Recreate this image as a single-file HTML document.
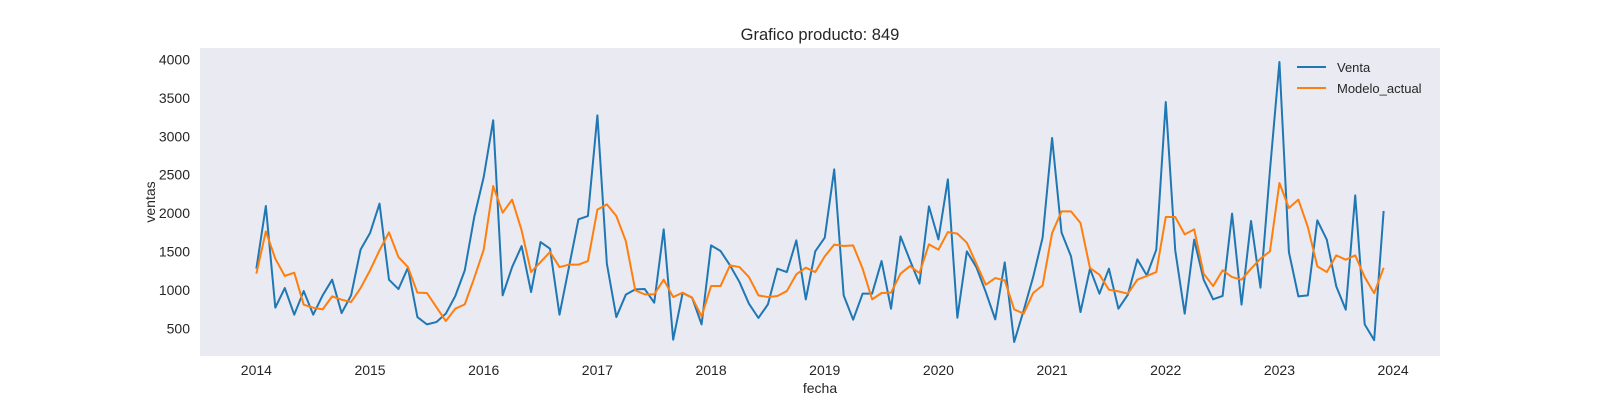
<!DOCTYPE html>
<html><head><meta charset="utf-8"><style>
body{margin:0;background:#fff;}
svg text{font-family:"Liberation Sans",Arial,sans-serif;fill:#262626;}
</style></head><body>
<svg id="chart" width="1600" height="400" xmlns="http://www.w3.org/2000/svg">
<rect x="200" y="48" width="1240" height="308" fill="#eaeaf2"/>
<text x="820" y="40" text-anchor="middle" font-size="16.5">Grafico producto: 849</text>
<text x="820" y="393" text-anchor="middle" font-size="14">fecha</text>
<text x="0" y="0" transform="translate(155,202) rotate(-90)" text-anchor="middle" font-size="14">ventas</text>
<g id="xticks"></g><g id="yticks"></g><g id="series"></g>
<g>
<line x1="1297" y1="67" x2="1326" y2="67" stroke="#1f77b4" stroke-width="2"/>
<text x="1337" y="72" font-size="13">Venta</text>
<line x1="1297" y1="88" x2="1326" y2="88" stroke="#ff7f0e" stroke-width="2"/>
<text x="1337" y="93" font-size="13">Modelo_actual</text>
</g>
</svg>
<script>
const startYear = 2014;
const venta = [1279,2093,772,1027,681,988,681,932,1136,702,932,1526,
1742,2124,1136,1014,1292,650,555,585,694,924,1257,1950,
2470,3207,932,1300,1573,975,1625,1539,681,1300,1920,1963,
3272,1344,650,941,1010,1014,837,1790,356,963,902,555,
1582,1509,1322,1105,824,638,815,1279,1235,1647,880,1504,
1682,2570,932,616,954,954,1378,759,1699,1387,1084,2089,
1660,2440,642,1504,1300,975,620,1361,326,737,1170,1682,
2977,1747,1439,715,1279,954,1279,759,941,1400,1192,1526,
3445,1517,694,1656,1136,880,924,1994,811,1898,1032,2557,
3965,1495,919,932,1907,1656,1049,746,2232,555,350,2030];
const modelo = [1214,1764,1409,1184,1227,811,772,750,919,876,845,1027,
1257,1517,1751,1430,1300,967,963,780,598,759,815,1157,
1526,2353,2007,2176,1777,1235,1365,1496,1300,1331,1331,1378,
2046,2115,1963,1638,997,945,945,1136,910,967,902,659,
1053,1053,1322,1300,1170,932,910,924,988,1205,1292,1235,
1439,1591,1573,1582,1279,880,963,967,1214,1313,1222,1595,
1526,1755,1734,1617,1344,1071,1157,1127,750,694,963,1062,
1742,2024,2024,1872,1287,1201,1006,984,954,1136,1184,1235,
1950,1950,1725,1790,1214,1053,1257,1170,1136,1279,1409,1504,
2392,2067,2176,1820,1309,1235,1452,1396,1452,1170,960,1290];
const xTickLabels = ["2014","2015","2016","2017","2018","2019","2020","2021","2022","2023","2024"];
const yTickValues = [500,1000,1500,2000,2500,3000,3500,4000];

const NS="http://www.w3.org/2000/svg";
const L=200,R=1440,T=48,B=356;
const n=venta.length;
const spanYears=(n-1)/12;
const x0=startYear-spanYears*0.05, x1=startYear+spanYears*1.05;
function xScale(yr){return L+(yr-x0)/(x1-x0)*(R-L);}
const all=venta.concat(modelo);
const vmin=Math.min(...all), vmax=Math.max(...all), pad=(vmax-vmin)*0.05;
const y0=vmin-pad, y1=vmax+pad;
function yScale(v){return B-(v-y0)/(y1-y0)*(B-T);}

const xt=document.getElementById('xticks');
xTickLabels.forEach(function(lab){
  const t=document.createElementNS(NS,'text');
  t.setAttribute('x',xScale(+lab));t.setAttribute('y',B+19);
  t.setAttribute('text-anchor','middle');t.setAttribute('font-size','14');
  t.textContent=lab;
  
  
  xt.appendChild(t);
});
const yt=document.getElementById('yticks');
yTickValues.forEach(function(v){
  const t=document.createElementNS(NS,'text');
  t.setAttribute('x',L-10);t.setAttribute('y',yScale(v)+5);
  t.setAttribute('text-anchor','end');t.setAttribute('font-size','14');
  t.textContent=v;
  
  
  yt.appendChild(t);
});
const sg=document.getElementById('series');
function drawLine(arr,color,name){
  const pts=arr.map(function(v,i){return xScale(startYear+i/12).toFixed(2)+','+yScale(v).toFixed(2);}).join(' ');
  const p=document.createElementNS(NS,'polyline');
  p.setAttribute('points',pts);p.setAttribute('fill','none');
  p.setAttribute('stroke',color);p.setAttribute('stroke-width','2');
  p.setAttribute('stroke-linejoin','round');
  
  
  sg.appendChild(p);
}
drawLine(venta,'#1f77b4','venta-line');
drawLine(modelo,'#ff7f0e','modelo-actual-line');
</script>
</body></html>
